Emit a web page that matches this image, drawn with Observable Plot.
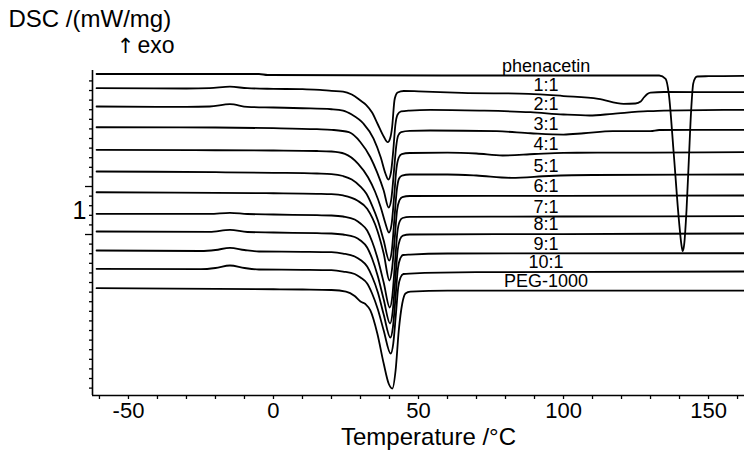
<!DOCTYPE html>
<html>
<head>
<meta charset="utf-8">
<script src="https://cdn.jsdelivr.net/npm/d3@7"></script>
<script src="https://cdn.jsdelivr.net/npm/@observablehq/plot@0.6"></script>
<style>
  html, body { margin: 0; padding: 0; background: #fff; }
  #chart svg { display: block; }
</style>
</head>
<body>
<div id="chart"></div>
<script>
// ---- Data: DSC curves, [temperature °C, heat flow mW/mg (offset)] ----
const phenacetin = [[-61,3.344],[-5,3.344],[-2,3.323],[60,3.313],[133,3.313],[135.2,3.244],[136.3,2.931],[138,1.688],[139.8,0.292],[140.6,-0.188],[141.1,-0.348],[141.6,-0.208],[142.4,0.5],[143.2,1.542],[144,2.583],[144.7,3.140],[145.4,3.260],[146.1,3.292],[150,3.298],[162.4,3.306]];
const r1_1 = [[-61,3.048],[-30,3.042],[-22,3.048],[-15,3.079],[-9,3.048],[0,3.035],[10,3.027],[16,3.015],[20,2.994],[24,2.979],[27,2.917],[30,2.792],[32,2.698],[34,2.542],[36,2.292],[38,2.042],[39.4,1.923],[40.2,2.0],[40.9,2.235],[41.7,2.792],[42.2,2.906],[42.8,2.958],[44.9,2.990],[50,2.983],[65,2.952],[88,2.931],[100,2.885],[112,2.827],[120.7,2.723],[124.8,2.729],[126.6,2.771],[127.7,2.854],[128.9,2.927],[130,2.958],[134.6,2.969],[162.4,2.965]];
const r2_1 = [[-61,2.667],[-30,2.660],[-22,2.667],[-15,2.715],[-9,2.660],[0,2.646],[10,2.631],[20,2.610],[24,2.583],[27,2.5],[31,2.313],[34.5,2.0],[37,1.604],[38.6,1.271],[39.6,1.146],[40.5,1.292],[41.3,1.75],[42,2.271],[42.8,2.5],[44,2.563],[47,2.583],[54,2.598],[71,2.583],[88.6,2.548],[100,2.5],[109,2.479],[117,2.515],[129,2.569],[134.6,2.583],[162.4,2.598]];
const r3_1 = [[-61,2.235],[-20,2.229],[0,2.215],[15,2.194],[20,2.181],[26,2.131],[30,1.923],[33.4,1.610],[35.7,1.298],[38,0.917],[39.7,0.563],[40.6,0.729],[41.5,1.292],[42.3,1.833],[43,2.063],[44,2.135],[47,2.160],[54,2.167],[77,2.152],[88.6,2.110],[100,2.083],[107,2.110],[117,2.152],[130,2.156],[133,2.177],[162.4,2.181]];
const r4_1 = [[-61,1.765],[-20,1.756],[0,1.75],[15,1.740],[20,1.729],[24.6,1.681],[29.2,1.473],[32.6,1.194],[35,0.896],[37,0.563],[38.5,0.25],[39.8,0.042],[40.7,0.208],[41.6,0.792],[42.4,1.375],[43.2,1.604],[44.2,1.677],[47,1.698],[60,1.708],[70,1.688],[79,1.646],[90,1.677],[100,1.702],[130,1.708],[162.4,1.715]];
const r5_1 = [[-61,1.313],[-20,1.298],[0,1.285],[15,1.271],[20,1.260],[24,1.219],[27,1.146],[30,1.0],[32,0.854],[34,0.604],[36,0.292],[38,-0.125],[39.9,-0.542],[40.8,-0.333],[41.7,0.333],[42.5,0.917],[43.3,1.167],[44.3,1.229],[47,1.25],[60,1.25],[70,1.229],[82,1.181],[95,1.219],[110,1.240],[162.4,1.25]];
const r6_1 = [[-61,0.881],[-20,0.869],[0,0.860],[15,0.848],[20,0.840],[24,0.813],[28.9,0.708],[32.3,0.535],[35.8,0.083],[38,-0.396],[40,-0.958],[40.9,-0.708],[41.8,-0.083],[42.6,0.5],[43.4,0.708],[44.4,0.781],[47,0.802],[100,0.806],[162.4,0.813]];
const r7_1 = [[-61,0.431],[-22,0.431],[-15,0.452],[-9,0.427],[0,0.417],[15,0.402],[20,0.396],[24,0.375],[28,0.313],[30,0.229],[32.3,0.083],[34,-0.146],[36,-0.521],[38,-1.0],[40.1,-1.521],[41,-1.271],[41.9,-0.583],[42.7,0.042],[43.5,0.271],[44.5,0.344],[47,0.369],[100,0.375],[162.4,0.381]];
const r8_1 = [[-61,0.063],[-22,0.056],[-15,0.098],[-9,0.052],[0,0.042],[15,0.027],[20,0.021],[24,0],[28,-0.052],[30,-0.125],[32.3,-0.271],[34,-0.5],[36,-0.875],[38,-1.354],[40.2,-1.854],[41.1,-1.604],[42,-0.938],[42.8,-0.333],[43.6,-0.104],[44.6,-0.021],[47,0],[100,0.010],[162.4,0.021]];
const r9_1 = [[-61,-0.333],[-25,-0.344],[-20,-0.323],[-15,-0.277],[-10,-0.323],[-5,-0.354],[10,-0.360],[20,-0.369],[24,-0.396],[28,-0.458],[30,-0.531],[32.3,-0.667],[34,-0.875],[36,-1.208],[38,-1.667],[40.3,-2.146],[41.2,-1.917],[42.1,-1.292],[42.9,-0.708],[43.7,-0.5],[44.7,-0.427],[47,-0.417],[60,-0.396],[162.4,-0.390]];
const r10_1 = [[-61,-0.715],[-25,-0.723],[-20,-0.698],[-15,-0.646],[-10,-0.698],[-5,-0.729],[10,-0.735],[20,-0.744],[24,-0.771],[28,-0.823],[30,-0.896],[32.3,-1.021],[34,-1.229],[36,-1.563],[38,-2.0],[40.4,-2.479],[41.3,-2.271],[42.2,-1.667],[43,-1.104],[43.8,-0.896],[44.8,-0.823],[47,-0.813],[70,-0.785],[162.4,-0.771]];
const peg1000 = [[-61,-1.119],[-20,-1.131],[0,-1.140],[10,-1.146],[20,-1.156],[25,-1.188],[28,-1.281],[30,-1.396],[31.7,-1.448],[33.4,-1.583],[35.8,-2.063],[38,-2.688],[39.7,-3.104],[41,-3.208],[42.1,-2.833],[43.2,-2.0],[44.4,-1.438],[45.5,-1.229],[47.2,-1.188],[60,-1.167],[162.4,-1.167]];

const seriesNames = ["phenacetin","1:1","2:1","3:1","4:1","5:1","6:1","7:1","8:1","9:1","10:1","PEG-1000"];
const seriesData = [phenacetin, r1_1, r2_1, r3_1, r4_1, r5_1, r6_1, r7_1, r8_1, r9_1, r10_1, peg1000];
const labelTemperature = 94;

// ---- Axes / ticks ----
const xDomain = [-62.4, 162.4];
const yDomain = [-3.354, 3.417];
const xTicksMajor = [-50, 0, 50, 100, 150];
const xTicksMinor = [-60, -40, -30, -20, -10, 10, 20, 30, 40, 60, 70, 80, 90, 110, 120, 130, 140, 160];
const yTicksMinor = [-3.2,-3.0,-2.8,-2.6,-2.4,-2.2,-2.0,-1.8,-1.6,-1.4,-1.2,-1.0,-0.8,-0.6,-0.4,-0.2,0.2,0.4,0.6,0.8,1.2,1.4,1.6,1.8,2.0,2.2,2.4,2.6,2.8,3.0,3.2];
const yScaleBarTicks = [0, 1];
const yScaleBarLabel = ["1"];
const yScaleBarLabelPos = [0.5];
const yTitle = "DSC /(mW/mg)";
const exoArrow = "\u2191";
const exoLabel = "exo";
const xTitle = "Temperature /\u00B0C";

// ---- Build tables ----
const rows = seriesData.flatMap((pts, i) => pts.map(([t, v]) => ({name: seriesNames[i], t, v})));
function valueAt(pts, t) {
  for (let i = 1; i < pts.length; i++) {
    if (pts[i][0] >= t) {
      const [t0, v0] = pts[i - 1], [t1, v1] = pts[i];
      return v0 + (v1 - v0) * (t - t0) / (t1 - t0);
    }
  }
  return pts[pts.length - 1][1];
}
const labels = seriesData.map((pts, i) => ({name: seriesNames[i], t: labelTemperature, v: valueAt(pts, labelTemperature)}));

const font = "'Liberation Sans', 'DejaVu Sans', sans-serif";

const chart = Plot.plot({
  width: 744,
  height: 451,
  marginTop: 70,
  marginBottom: 56,
  marginLeft: 92,
  marginRight: 0,
  style: {fontFamily: font, background: "#fff", color: "#000", overflow: "visible"},
  x: {domain: xDomain, axis: null, label: null},
  y: {domain: yDomain, axis: null, label: null},
  marks: [
    Plot.axisX({ticks: xTicksMinor, tickSize: 4, fill: "none", label: null, strokeWidth: 1.3}),
    Plot.axisX({ticks: xTicksMajor, tickSize: 4, tickPadding: 3, fontSize: 22, label: null, strokeWidth: 1.3, tickFormat: d => String(d)}),
    Plot.axisY({ticks: yTicksMinor, tickSize: 3, fill: "none", label: null, strokeWidth: 1.3}),
    Plot.axisY({ticks: yScaleBarTicks, tickSize: 7, fill: "none", label: null, strokeWidth: 1.3}),
    Plot.ruleX([xDomain[0]], {stroke: "#000", strokeWidth: 1.6}),
    Plot.ruleY([yDomain[0]], {stroke: "#000", strokeWidth: 1.6}),
    Plot.line(rows, {x: "t", y: "v", z: "name", curve: "monotone-x", stroke: "#000", strokeWidth: 1.8}),
    Plot.text(labels, {x: "t", y: "v", text: "name", dy: -9.5, fontSize: 18, fill: "#000"}),
    Plot.text(yScaleBarLabel, {y: yScaleBarLabelPos, frameAnchor: "left", dx: -13, textAnchor: "middle", fontSize: 25, fill: "#000"}),
    Plot.text([yTitle], {frameAnchor: "top-left", dx: -84, dy: -51, textAnchor: "start", lineAnchor: "middle", fontSize: 24, fill: "#000"}),
    Plot.text([exoArrow], {frameAnchor: "top-left", dx: 33, dy: -24, textAnchor: "middle", lineAnchor: "middle", fontSize: 21, fontFamily: "'DejaVu Sans', sans-serif", fill: "#000"}),
    Plot.text([exoLabel], {frameAnchor: "top-left", dx: 45, dy: -25, textAnchor: "start", lineAnchor: "middle", fontSize: 23, fill: "#000"}),
    Plot.text([xTitle], {frameAnchor: "bottom", dx: 10, dy: 42, lineAnchor: "middle", fontSize: 24, fill: "#000"})
  ]
});
document.getElementById("chart").appendChild(chart);
</script>
</body>
</html>
